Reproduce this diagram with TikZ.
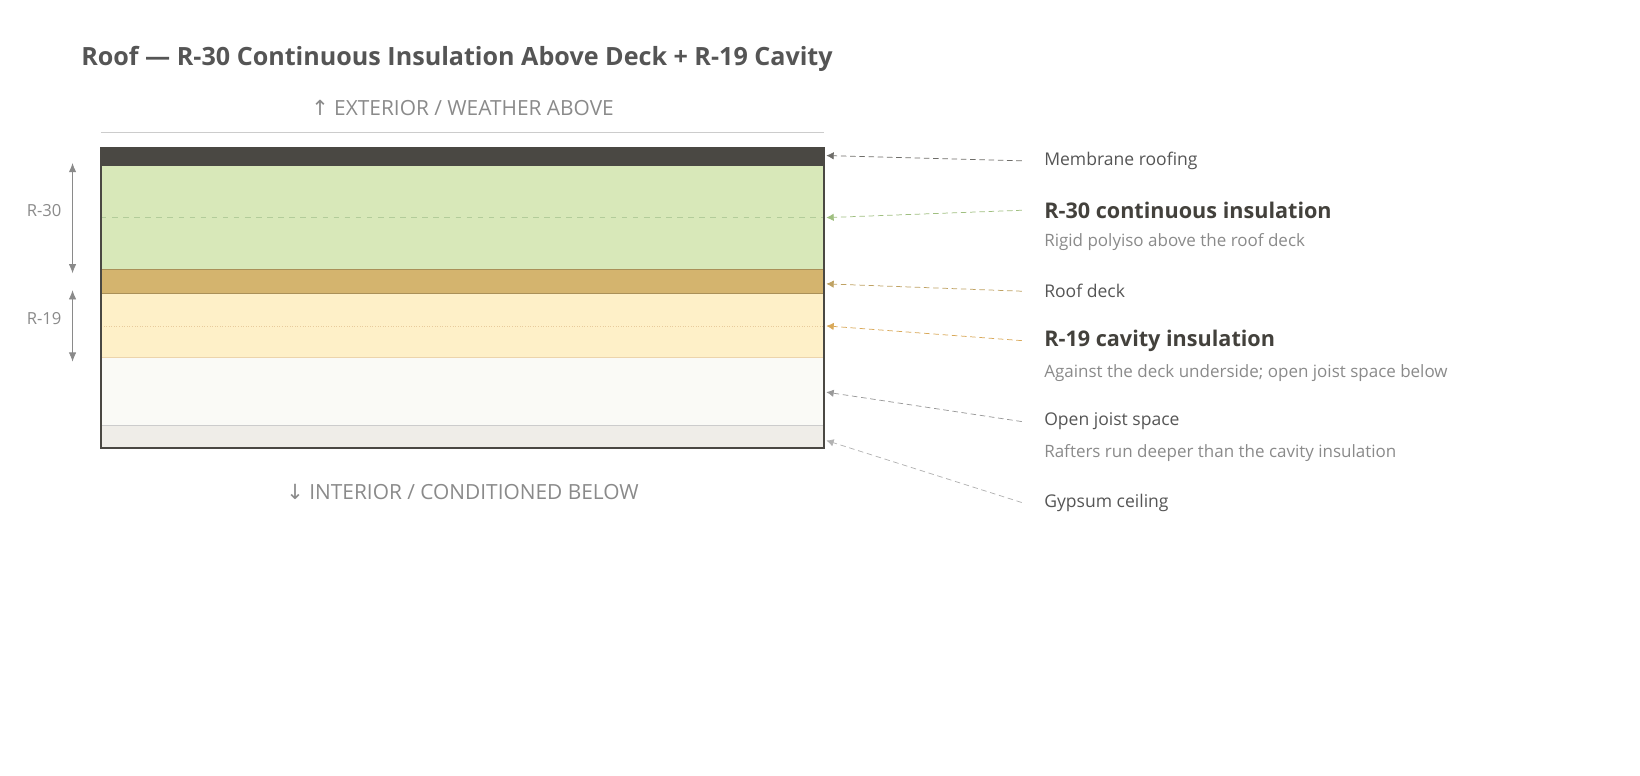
\documentclass[tikz,border=0pt]{standalone}
\usepackage{fontspec}
\setmainfont{Open Sans}
\newfontfamily\arrowfont{DejaVu Sans}
\usetikzlibrary{arrows.meta}
\definecolor{ink}{HTML}{4A4843}
\definecolor{txt}{HTML}{555555}
\definecolor{sub}{HTML}{8A8A8A}
\definecolor{green}{HTML}{D8E8B9}
\definecolor{greenline}{HTML}{9FBF80}
\definecolor{deck}{HTML}{D4B46E}
\definecolor{cav}{HTML}{FEF0C8}
\definecolor{cavline}{HTML}{D9A95A}
\definecolor{space}{HTML}{FAFAF6}
\definecolor{gyp}{HTML}{EFEDE8}
\tikzset{
  lab/.style={anchor=west,inner sep=0pt,text=txt,font=\fontsize{9.5}{12}\selectfont},
  big/.style={anchor=west,inner sep=0pt,text=ink!90!black,font=\fontsize{11.7}{14}\selectfont\bfseries},
  note/.style={anchor=west,inner sep=0pt,text=sub,font=\fontsize{9.2}{11}\selectfont},
  call/.style={densely dashed,-{Latex[length=4pt,width=4pt]}},
  dim/.style={sub,{Latex[length=5pt,width=4pt]}-{Latex[length=5pt,width=4pt]}}
}
\begin{document}
\begin{tikzpicture}[x=0.02cm,y=-0.02cm]
\useasboundingbox (0,0) rectangle (1560,738);

\node[anchor=west,inner sep=0pt,text=txt,font=\fontsize{13.6}{15}\selectfont\bfseries] (title) at (77,56) {Roof — R-30 Continuous Insulation Above Deck + R-19 Cavity};
\node[inner sep=0pt,text=sub,font=\fontsize{11.3}{13}\selectfont] (ext) at (440,103) {{\arrowfont ↑} EXTERIOR / WEATHER ABOVE};
\node[inner sep=0pt,text=sub,font=\fontsize{11.3}{13}\selectfont] (int) at (440,468) {{\arrowfont ↓} INTERIOR / CONDITIONED BELOW};
\draw[black!20] (96,126) -- (784,126);

% layers
\fill[ink] (96,141) rectangle (784,158);
\fill[green] (96,158) rectangle (784,256);
\fill[deck] (96,256) rectangle (784,279);
\fill[cav] (96,279) rectangle (784,340);
\fill[space] (96,340) rectangle (784,405);
\fill[gyp] (96,405) rectangle (784,426);
\draw[deck!80!black,thin] (96,256) -- (784,256);
\draw[deck!80!black,thin] (96,279) -- (784,279);
\draw[cavline!50,thin] (96,340) -- (784,340);
\draw[black!20] (96,405) -- (784,405);
\draw[greenline!80,dashed] (96,207) -- (784,207);
\draw[cavline!60,densely dotted] (96,310) -- (784,310);
\draw[ink,thick] (96,141) rectangle (784,426);

% R-value dimensions
\draw[dim] (69,155) -- (69,260);
\draw[dim] (69,276) -- (69,344);
\node[text=sub,font=\fontsize{9}{11}\selectfont] (r30) at (42,200) {R-30};
\node[text=sub,font=\fontsize{9}{11}\selectfont] (r19) at (42,303) {R-19};

% callouts
\coordinate (p1) at (786,148);
\coordinate (p2) at (786,207);
\coordinate (p3) at (786,270);
\coordinate (p4) at (786,310);
\coordinate (p5) at (786,373);
\coordinate (p6) at (786,419);
\node[lab] (membrane) at (993,153) {Membrane roofing};
\node[big] (ci) at (993,200) {R-30 continuous insulation};
\node[note] (cinote) at (993,230) {Rigid polyiso above the roof deck};
\node[lab] (roofdeck) at (993,277) {Roof deck};
\node[big] (cavity) at (993,324) {R-19 cavity insulation};
\node[note] (cavnote) at (993,355) {Against the deck underside; open joist space below};
\node[lab] (joist) at (993,401) {Open joist space};
\node[note] (joistnote) at (993,431) {Rafters run deeper than the cavity insulation};
\node[lab] (gypsum) at (993,478) {Gypsum ceiling};
\draw[call,ink!80] ([xshift=-12pt]membrane.west) -- (p1);
\draw[call,greenline] ([xshift=-12pt]ci.west) -- (p2);
\draw[call,deck!90!black] ([xshift=-12pt]roofdeck.west) -- (p3);
\draw[call,cavline] ([xshift=-12pt]cavity.west) -- (p4);
\draw[call,black!40] ([xshift=-12pt]joist.west) -- (p5);
\draw[call,black!30] ([xshift=-12pt]gypsum.west) -- (p6);
\end{tikzpicture}
\end{document}
